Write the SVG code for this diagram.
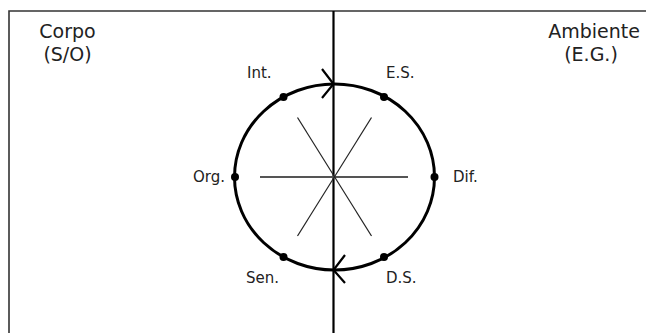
<svg xmlns="http://www.w3.org/2000/svg" width="646" height="333" viewBox="0 0 646 333">
<style>
text{font-family:"DejaVu Sans","Open Sans",sans-serif;fill:#222}
.t{font-size:19px;text-anchor:middle}
.l{font-size:15px}
.frame{fill:none;stroke:#333;stroke-width:1.6}
.dot{fill:#000}
</style>
<rect width="646" height="333" fill="#fff"/>
<g id="frame">
<path class="frame" d="M9,333 V11 H646"/>
<line x1="333.5" y1="11" x2="333.5" y2="333" stroke="#000" stroke-width="2.2"/>
</g>
<g id="corpo"><text class="t"><tspan x="67.5" y="38">Corpo</tspan><tspan x="67.5" y="60.5">(S/O)</tspan></text></g>
<g id="ambiente"><text class="t"><tspan x="594" y="38">Ambiente</tspan><tspan x="591" y="60.5">(E.G.)</tspan></text></g>
<g id="cycle">
<ellipse cx="334.5" cy="177" rx="100" ry="93" fill="none" stroke="#000" stroke-width="3"/>
<line x1="260" y1="177" x2="408" y2="177" stroke="#555" stroke-width="1.8"/>
<line x1="297.5" y1="117.5" x2="371.5" y2="236" stroke="#222" stroke-width="1.2"/>
<line x1="371.5" y1="117.5" x2="297.5" y2="236" stroke="#222" stroke-width="1.2"/>
</g>
<g id="connectors" fill="none" stroke="#000" stroke-width="2.2">
<polyline points="322,69 333.5,84 322,98"/>
<polyline points="345,255 333.5,270 345,283"/>
</g>
<g id="int"><circle class="dot" cx="283.5" cy="97" r="4"/><text class="l" x="247" y="78">Int.</text></g>
<g id="es"><circle class="dot" cx="384" cy="97" r="4"/><text class="l" x="386" y="78">E.S.</text></g>
<g id="org"><circle class="dot" cx="235" cy="177" r="4"/><text class="l" x="193" y="182">Org.</text></g>
<g id="dif"><circle class="dot" cx="434.5" cy="177" r="4"/><text class="l" x="453" y="182">Dif.</text></g>
<g id="sen"><circle class="dot" cx="283.5" cy="257" r="4"/><text class="l" x="246" y="283">Sen.</text></g>
<g id="ds"><circle class="dot" cx="384" cy="257" r="4"/><text class="l" x="386" y="283">D.S.</text></g>
</svg>
